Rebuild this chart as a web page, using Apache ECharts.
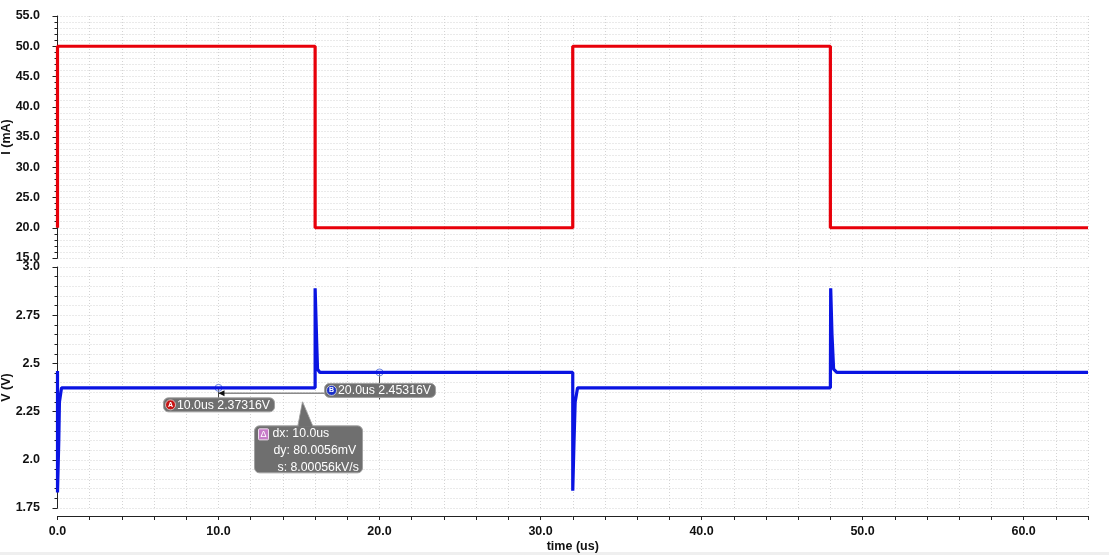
<!DOCTYPE html>
<html><head><meta charset="utf-8">
<script src="https://cdn.jsdelivr.net/npm/echarts@6/dist/echarts.min.js"></script>
<style>html,body{margin:0;padding:0;background:#fff}#c{width:1109px;height:555px}</style>
</head><body><div id="c"></div>
<script>
// ---- data ----
const currentTime = [0, 0, 16, 16, 32, 32, 48, 48, 64];
const currentMA   = [20, 50, 50, 20, 20, 50, 50, 20, 20];
const voltageTime = [0, 0, 0.08, 0.12, 0.25, 16, 16, 16.1, 16.15, 16.3, 32, 32, 32.08, 32.15, 32.3, 48, 48.02, 48.1, 48.2, 48.4, 64];
const voltageV    = [2.46, 1.83, 2.1, 2.3, 2.37316, 2.37316, 2.89, 2.6, 2.47, 2.45316, 2.45316, 1.84, 2.1, 2.3, 2.37316, 2.37316, 2.89, 2.65, 2.47, 2.45316, 2.45316];
const iTickValues = [15, 20, 25, 30, 35, 40, 45, 50, 55];
const iTickLabels = ['15.0', '20.0', '25.0', '30.0', '35.0', '40.0', '45.0', '50.0', '55.0'];
const vTickValues = [1.75, 2.0, 2.25, 2.5, 2.75, 3.0];
const vTickLabels = ['1.75', '2.0', '2.25', '2.5', '2.75', '3.0'];
const tTickValues = [0, 10, 20, 30, 40, 50, 60];
const tTickLabels = ['0.0', '10.0', '20.0', '30.0', '40.0', '50.0', '60.0'];
const markerNames  = ['A', 'B'];
const markerTimes  = [10, 20];
const markerValues = [2.37316, 2.45316];
const markerLabels = ['10.0us 2.37316V', '20.0us 2.45316V'];
const deltaLines   = ['dx: 10.0us', 'dy: 80.0056mV', 's: 8.00056kV/s'];

const zip = (a, b) => a.map((v, i) => [v, b[i]]);
const lookup = (vals, labs) => v => { const i = vals.findIndex(x => Math.abs(x - v) < 1e-6); return i >= 0 ? labs[i] : ''; };

const FONT = 'Liberation Sans';
const grid = { color: '#d4d4d4', type: [1, 2], width: 1 };
const txt = { fontFamily: FONT, fontSize: 12.5, fontWeight: 'bold', color: '#111' };

const chart = echarts.init(document.getElementById('c'), null, { renderer: 'canvas' });
const yCommon = {
  type: 'value', offset: 7.5,
  axisLine: { show: true, lineStyle: { color: '#222', width: 1 } },
  axisTick: { show: true, inside: false, length: 5, lineStyle: { color: '#222' } },
  minorTick: { show: true, splitNumber: 5, length: 3, lineStyle: { color: '#222' } },
  splitLine: { show: true, lineStyle: grid },
  minorSplitLine: { show: true, lineStyle: grid },
  nameLocation: 'middle', nameGap: 37, nameMoveOverlap: false, nameTextStyle: txt
};
chart.setOption({
  animation: false,
  backgroundColor: '#fff',
  grid: [
    { left: 57.5, right: 21, top: 16, height: 242, containLabel: false, outerBoundsMode: 'none' },
    { left: 57.5, right: 21, top: 267, height: 241, containLabel: false, outerBoundsMode: 'none' }
  ],
  xAxis: [
    { type: 'value', gridIndex: 0, min: 0, max: 64, interval: 2,
      axisLine: { show: false }, axisTick: { show: false }, axisLabel: { show: false },
      splitLine: { show: true, lineStyle: grid } },
    { type: 'value', gridIndex: 1, min: 0, max: 64, interval: 2, position: 'bottom', offset: 8,
      axisLine: { show: true, onZero: false, lineStyle: { color: '#222' } },
      axisTick: { show: true, length: 4, lineStyle: { color: '#222' } },
      axisLabel: Object.assign({ margin: 9, formatter: lookup(tTickValues, tTickLabels) }, txt),
      splitLine: { show: true, lineStyle: grid },
      name: 'time (us)', nameLocation: 'middle', nameGap: 24, nameMoveOverlap: false, nameTextStyle: txt }
  ],
  yAxis: [
    Object.assign({}, yCommon, { gridIndex: 0, min: 15, max: 55, interval: 5, name: 'I (mA)',
      axisLabel: Object.assign({ margin: 10, formatter: lookup(iTickValues, iTickLabels) }, txt) }),
    Object.assign({}, yCommon, { gridIndex: 1, min: 1.75, max: 3.0, interval: 0.25, name: 'V (V)',
      axisLabel: Object.assign({ margin: 10, formatter: lookup(vTickValues, vTickLabels) }, txt) })
  ],
  series: [
    { type: 'line', xAxisIndex: 0, yAxisIndex: 0, data: zip(currentTime, currentMA), showSymbol: false,
      lineStyle: { color: '#e8000a', width: 3.2 }, itemStyle: { color: '#e8000a' }, clip: false },
    { type: 'line', xAxisIndex: 1, yAxisIndex: 1, data: zip(voltageTime, voltageV), showSymbol: false,
      lineStyle: { color: '#0a14e2', width: 3.2 }, itemStyle: { color: '#0a14e2' }, clip: false }
  ]
});

// ---- cursor annotations, positioned from data via the chart's own scales ----
const P = markerTimes.map((t, i) => chart.convertToPixel({ xAxisIndex: 1, yAxisIndex: 1 }, [t, markerValues[i]]));
const A = P[0], B = P[1];
const boxFill = '#6f6f6f', boxStroke = '#a0a0a0';
const white = { fontFamily: FONT, fontSize: 12.3, fill: '#fff' };
const hy = A[1] + 5.5;
const els = [
  { type: 'rect', shape: { x: 0, y: 552, width: 1109, height: 3 }, style: { fill: '#efefef' } },
  // delta connector
  { type: 'line', shape: { x1: A[0], y1: hy, x2: B[0], y2: hy }, style: { stroke: '#8a8a8a', lineWidth: 1.5 } },
  { type: 'line', shape: { x1: A[0], y1: A[1], x2: A[0], y2: A[1] + 11 }, style: { stroke: '#444', lineWidth: 1 } },
  { type: 'line', shape: { x1: B[0], y1: B[1], x2: B[0], y2: hy + 6 }, style: { stroke: '#444', lineWidth: 1 } },
  { type: 'polygon', shape: { points: [[A[0], hy], [A[0] + 6, hy - 3], [A[0] + 6, hy + 3]] }, style: { fill: '#111' } },
  { type: 'polygon', shape: { points: [[B[0], hy], [B[0] - 6, hy - 3], [B[0] - 6, hy + 3]] }, style: { fill: '#111' } },
  // delta box with tail
  { type: 'polygon', shape: { points: [[A[0] + 79, A[1] + 40], [A[0] + 95, A[1] + 40], [A[0] + 84, A[1] + 14]] }, style: { fill: boxFill, stroke: boxStroke } },
  { type: 'rect', shape: { x: A[0] + 36, y: A[1] + 38, width: 108, height: 47, r: 5 }, style: { fill: boxFill, stroke: boxStroke } },
  { type: 'polygon', shape: { points: [[A[0] + 80, A[1] + 39], [A[0] + 94, A[1] + 39], [A[0] + 84, A[1] + 16]] }, style: { fill: boxFill } },
  { type: 'rect', shape: { x: A[0] + 40, y: A[1] + 41, width: 10, height: 11, r: 1 }, style: { fill: '#c77cc9', stroke: '#f0e0f0', lineWidth: 1 } },
  { type: 'text', x: A[0] + 45, y: A[1] + 46.5, style: { text: 'Δ', fontFamily: FONT, fontSize: 9, fill: '#fff', align: 'center', verticalAlign: 'middle' } }
];
const deltaX = [54, 55, 59];
deltaLines.forEach((s, i) => els.push({ type: 'text', x: A[0] + deltaX[i], y: A[1] + 45.5 + 17 * i,
  style: Object.assign({ text: s, verticalAlign: 'middle' }, white) }));
// marker boxes
const badgeCol = ['#c61414', '#1a2fc8'];
const boxOff = [10, 11];
P.forEach((p, i) => {
  const by = p[1] + boxOff[i];
  els.push({ type: 'rect', shape: { x: p[0] - 55, y: by, width: 111, height: 14, r: 5 }, style: { fill: boxFill, stroke: boxStroke } });
  els.push({ type: 'circle', shape: { cx: p[0] - 48, cy: by + 7, r: 5 }, style: { fill: badgeCol[i], stroke: '#ddd', lineWidth: 0.8 } });
  els.push({ type: 'text', x: p[0] - 48, y: by + 7, style: { text: markerNames[i], fontFamily: FONT, fontSize: 7, fontWeight: 'bold', fill: '#fff', align: 'center', verticalAlign: 'middle' } });
  els.push({ type: 'text', x: p[0] - 41.5, y: by + 7.5, style: Object.assign({ text: markerLabels[i], verticalAlign: 'middle' }, white) });
  els.push({ type: 'circle', shape: { cx: p[0], cy: p[1], r: 3.5 }, style: { fill: 'rgba(255,255,255,0.2)', stroke: '#6f86e0', lineWidth: 1 } });
});
chart.setOption({ graphic: { elements: els } });
</script>
</body></html>
